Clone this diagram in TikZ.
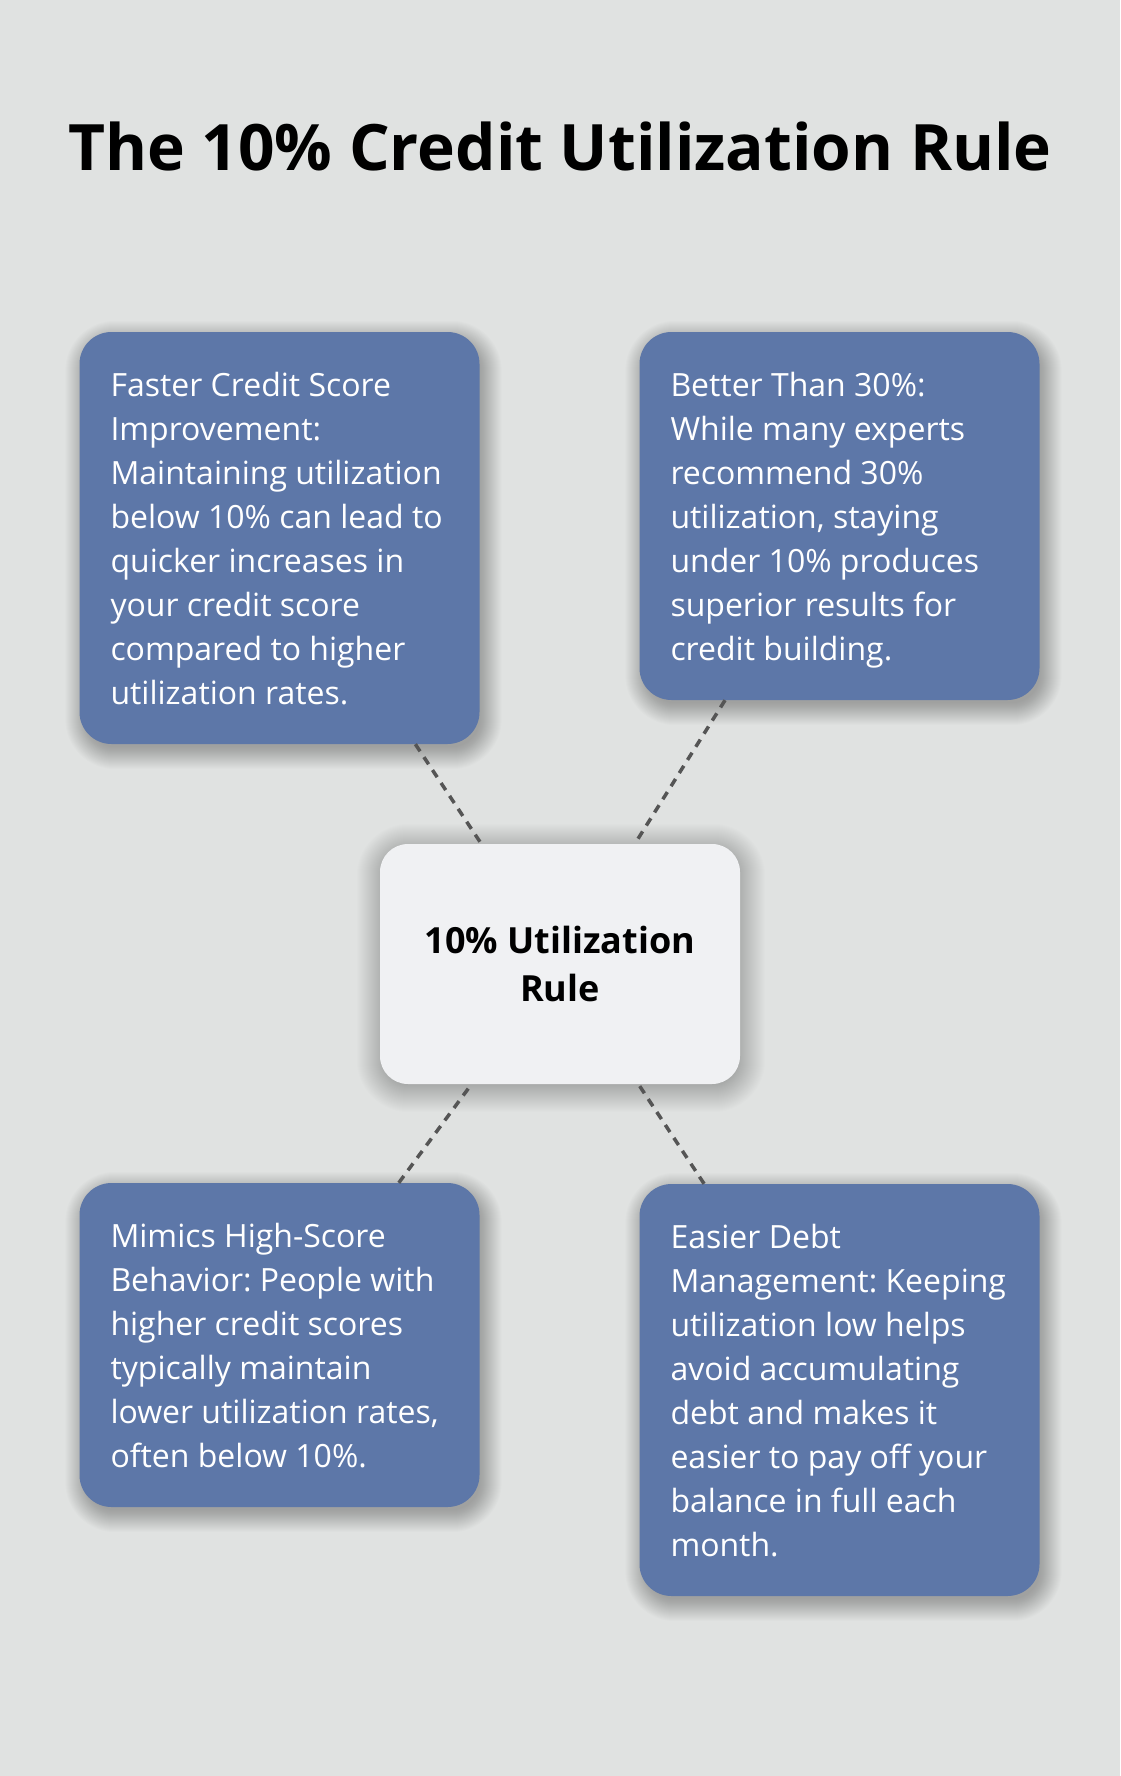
\documentclass[tikz,border=0pt]{standalone}
\usepackage{fontspec}
\setmainfont{Open Sans}
\frenchspacing
\definecolor{bgc}{RGB}{224,226,225}
\definecolor{cardc}{RGB}{93,119,168}
\definecolor{hubc}{RGB}{240,241,243}
\definecolor{dashc}{RGB}{85,85,85}
\pgfdeclarelayer{bgfill}
\pgfdeclarelayer{shadow}
\pgfsetlayers{bgfill,shadow,main}
\tikzset{
  card/.style={rectangle, rounded corners=32pt, fill=cardc, minimum width=400pt, inner sep=0pt},
  cardtext/.style={anchor=north west, inner sep=0pt, align=left, text=white,
    font=\fontsize{32}{44}\selectfont},
  hub/.style={rectangle, rounded corners=28pt, fill=hubc, minimum width=360pt, minimum height=240pt,
    inner sep=0pt, align=center, font=\fontsize{36}{48}\selectfont\bfseries},
  link/.style={draw=dashc, line width=3.5pt, dash pattern=on 8.5pt off 7pt},
  titletext/.style={anchor=base, inner sep=0pt, font=\fontsize{64}{78}\selectfont\bfseries},
  shadowlayer/.style={fill=black, opacity=0.012}
}
\begin{document}
\begin{tikzpicture}[x=1pt,y=-1pt]
\useasboundingbox (0,0) rectangle (1120,1776);
\begin{pgfonlayer}{bgfill}
\fill[bgc] (0,0) rectangle (1120,1776);
\end{pgfonlayer}
\node[titletext] (title) at (560,171) {The 10\% Credit Utilization Rule};
\node[card, minimum height=412pt] (b1) at (279.5,538) {};
\node[card, minimum height=368pt] (b2) at (839.5,516) {};
\node[card, minimum height=324pt] (b3) at (279.5,1345) {};
\node[card, minimum height=412pt] (b4) at (839.5,1390) {};
\node[hub] (c) at (560,964) {10\% Utilization\\Rule};
\begin{pgfonlayer}{shadow}
\foreach \n in {b1,b2,b3,b4}{
  \foreach \k in {-4,...,18}{
    \fill[shadowlayer, rounded corners=32pt+\k pt]
      ([shift={(4-\k,7-\k)}]\n.north west) rectangle ([shift={(4+\k,7+\k)}]\n.south east);
  }
}
\foreach \k in {-4,...,24}{
  \fill[black, opacity=0.006, rounded corners=28pt+\k pt]
    ([shift={(1-\k,4-\k)}]c.north west) rectangle ([shift={(1+\k,4+\k)}]c.south east);
}
\end{pgfonlayer}
\draw[link] (b1) -- (c);
\draw[link] (b2) -- (c);
\draw[link] (b3) -- (c);
\draw[link] (b4) -- (c);
\node[cardtext] (t1) at ([xshift=31pt,yshift=-34pt]b1.north west) {\rule{0pt}{30pt}Faster Credit Score\\Improvement:\\Maintaining utilization\\below 10\% can lead to\\quicker increases in\\your credit score\\compared to higher\\utilization rates.};
\node[cardtext] (t2) at ([xshift=31pt,yshift=-34pt]b2.north west) {\rule{0pt}{30pt}Better Than 30\%:\\While many experts\\recommend 30\%\\utilization, staying\\under 10\% produces\\superior results for\\credit building.};
\node[cardtext] (t3) at ([xshift=31pt,yshift=-34pt]b3.north west) {\rule{0pt}{30pt}Mimics High-Score\\Behavior: People with\\higher credit scores\\typically maintain\\lower utilization rates,\\often below 10\%.};
\node[cardtext] (t4) at ([xshift=31pt,yshift=-34pt]b4.north west) {\rule{0pt}{30pt}Easier Debt\\Management: Keeping\\utilization low helps\\avoid accumulating\\debt and makes it\\easier to pay off your\\balance in full each\\month.};
\end{tikzpicture}
\end{document}
